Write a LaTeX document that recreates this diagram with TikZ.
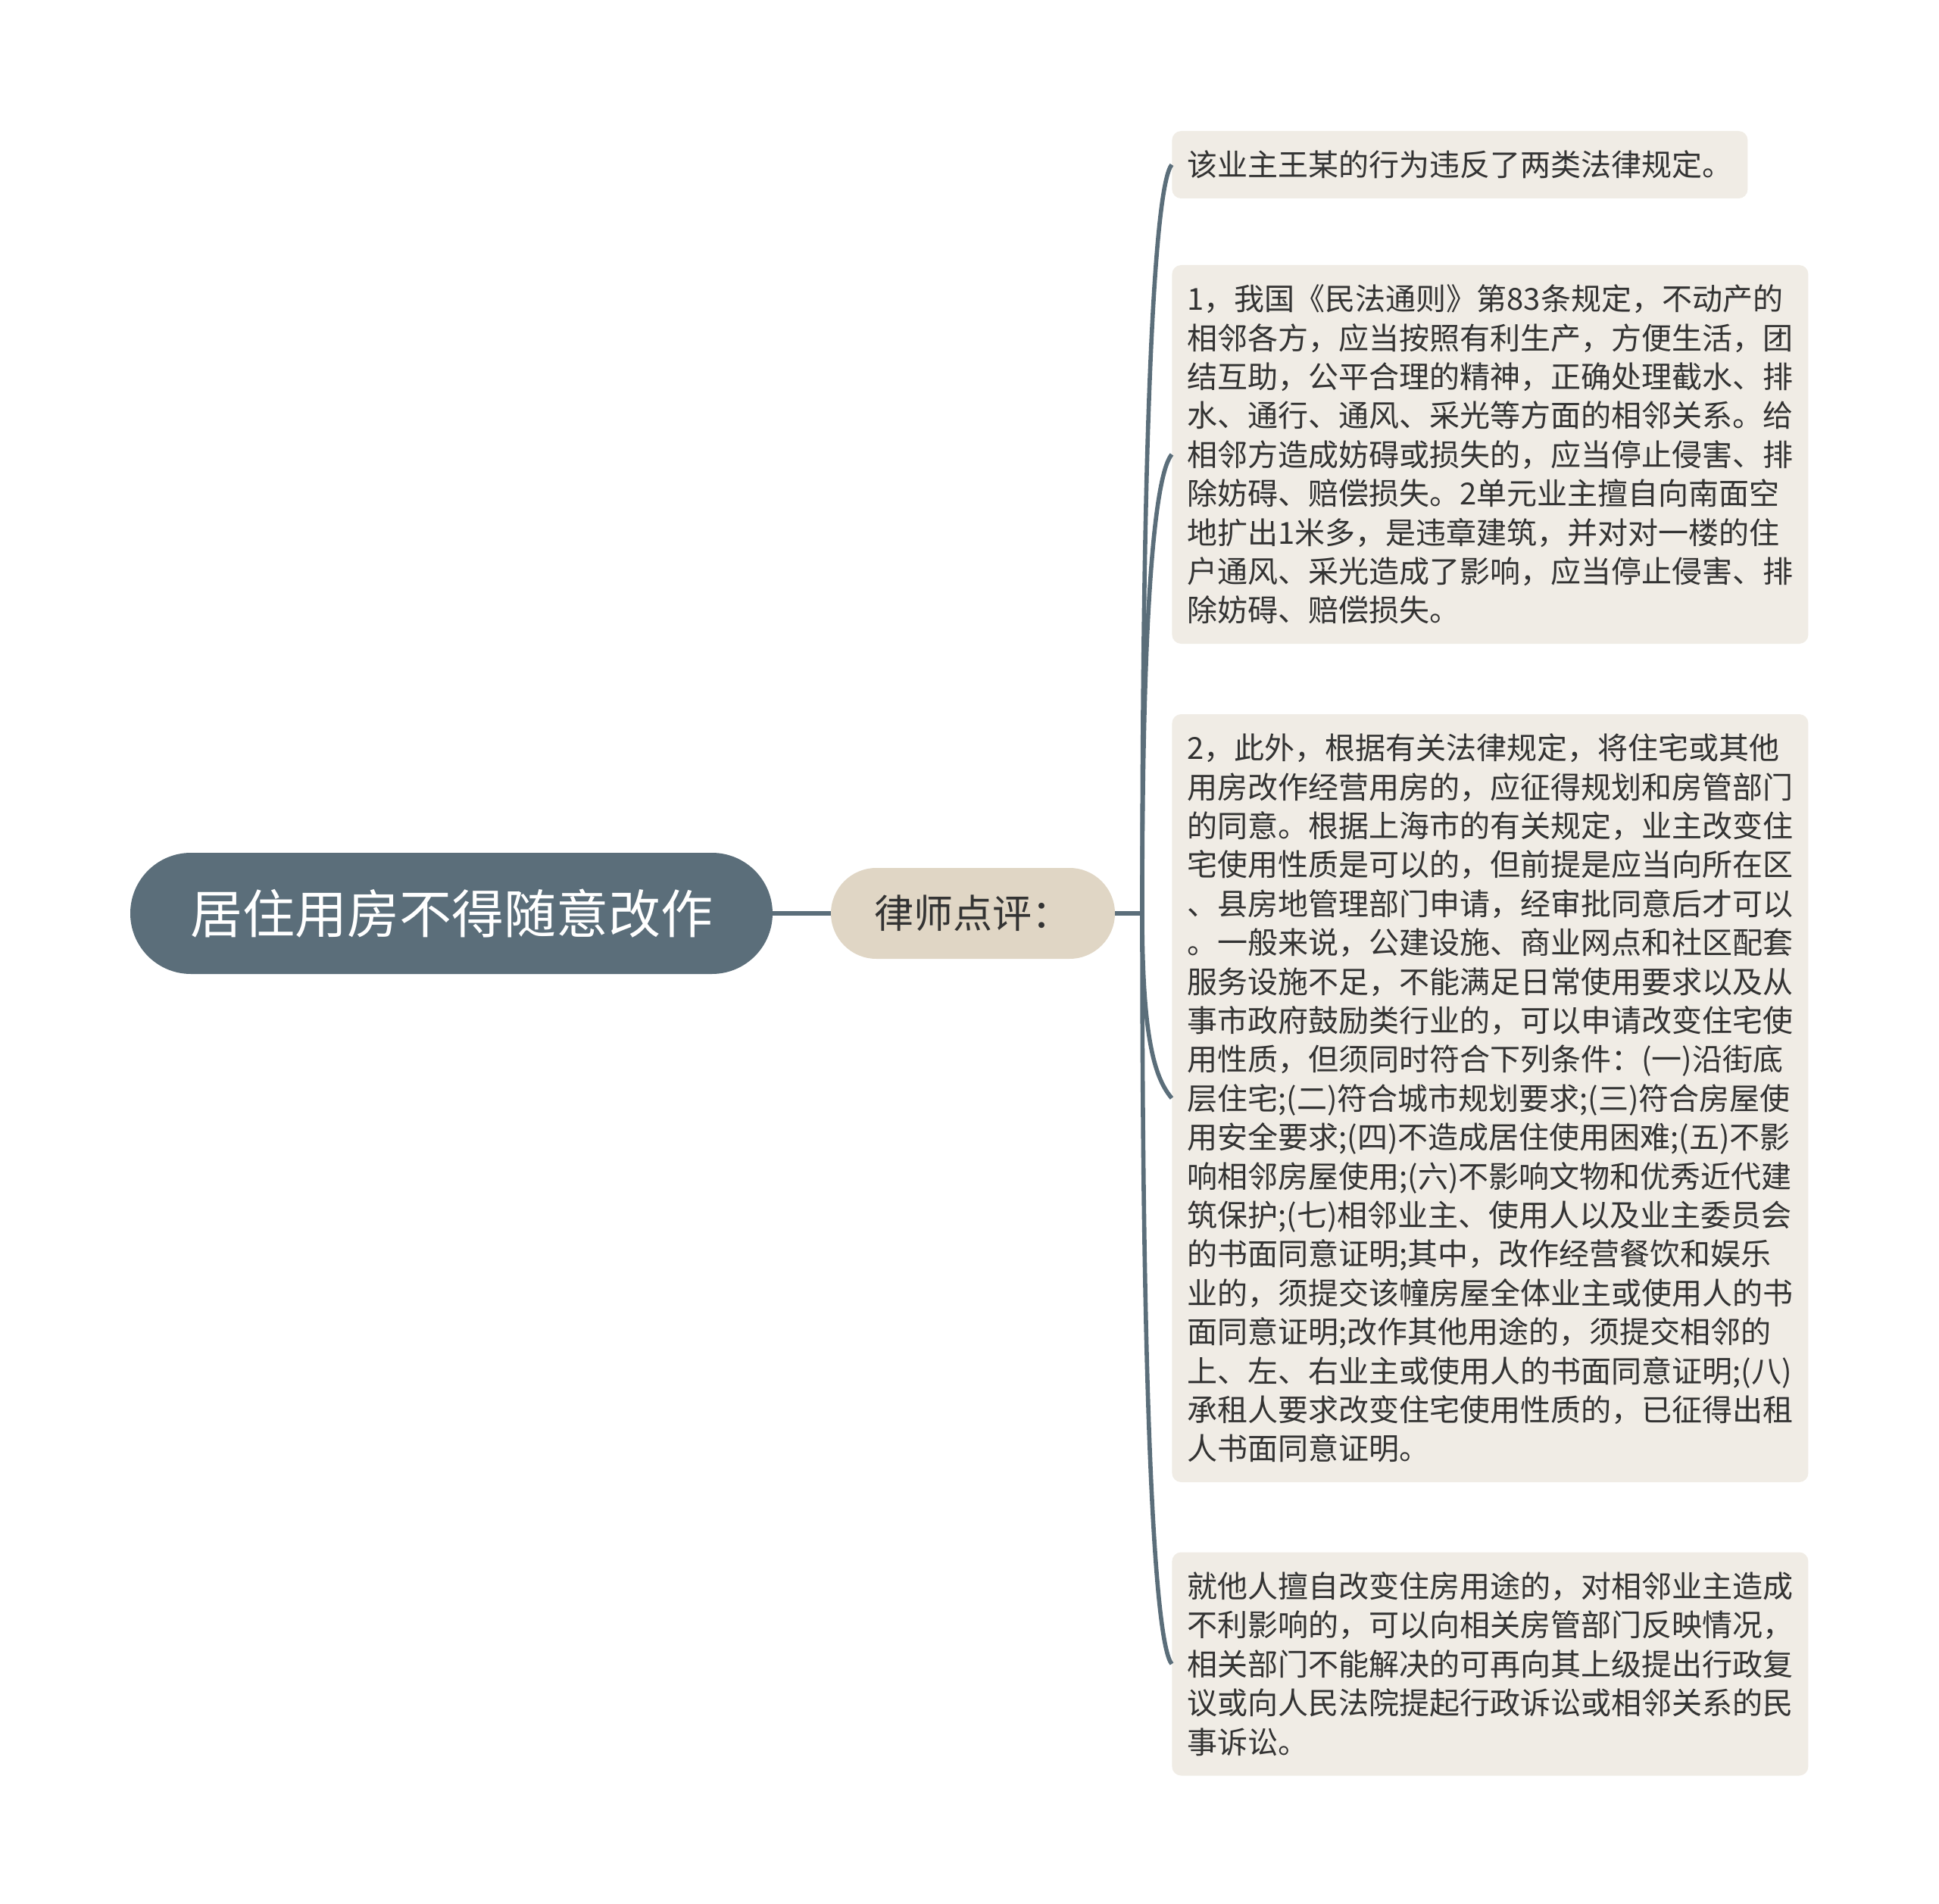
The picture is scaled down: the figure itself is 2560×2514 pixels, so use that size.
\documentclass[tikz,border=0pt]{standalone}
\usepackage{fontspec}
\setmainfont{Noto Sans CJK SC}
\usetikzlibrary{calc}
\definecolor{slate}{HTML}{5B6E7A}
\definecolor{tanbg}{HTML}{E0D6C5}
\definecolor{leafbg}{HTML}{F0ECE5}
\definecolor{inkc}{HTML}{333333}
\begin{document}
\begin{tikzpicture}[x=0.5pt,y=-0.5pt,
  rootbox/.style={fill=slate, rounded corners=40pt, minimum width=424pt, minimum height=80pt, inner sep=0pt, text=white, font=\fontsize{34.5pt}{40pt}\selectfont},
  subbox/.style={fill=tanbg, rounded corners=30pt, minimum width=187.5pt, minimum height=60pt, inner sep=0pt, text=inkc, font=\fontsize{26pt}{30pt}\selectfont},
  leafbox/.style={fill=leafbg, rounded corners=6pt, anchor=west, inner xsep=10pt, inner ysep=0pt, align=left, text=inkc, font=\fontsize{20pt}{25.7pt}\selectfont},
  link/.style={draw=slate, line width=2.8pt}
]
\useasboundingbox (0,0) rectangle (2560,2514);
\node[rootbox] (root) at (596,1206) {居住用房不得随意改作};
\node[subbox] (sub) at (1284.5,1206) {律师点评：};
\coordinate (j) at (1508,1206);
\node[leafbox, text width=360pt, minimum height=44.5pt] (l1) at (1547,217.5) {该业主王某的行为违反了两类法律规定。};
\node[leafbox, text width=400pt, minimum height=250pt] (l2) at (1547,600) {1，我国《民法通则》第83条规定，不动产的\\相邻各方，应当按照有利生产，方便生活，团\\结互助，公平合理的精神，正确处理截水、排\\水、通行、通风、采光等方面的相邻关系。给\\相邻方造成妨碍或损失的，应当停止侵害、排\\除妨碍、赔偿损失。2单元业主擅自向南面空\\地扩出1米多，是违章建筑，并对对一楼的住\\户通风、采光造成了影响，应当停止侵害、排\\除妨碍、赔偿损失。};
\node[leafbox, text width=400pt, minimum height=507pt] (l3) at (1547,1450) {2，此外，根据有关法律规定，将住宅或其他\\用房改作经营用房的，应征得规划和房管部门\\的同意。根据上海市的有关规定，业主改变住\\宅使用性质是可以的，但前提是应当向所在区\\、县房地管理部门申请，经审批同意后才可以\\。一般来说，公建设施、商业网点和社区配套\\服务设施不足，不能满足日常使用要求以及从\\事市政府鼓励类行业的，可以申请改变住宅使\\用性质，但须同时符合下列条件：(一)沿街底\\层住宅;(二)符合城市规划要求;(三)符合房屋使\\用安全要求;(四)不造成居住使用困难;(五)不影\\响相邻房屋使用;(六)不影响文物和优秀近代建\\筑保护;(七)相邻业主、使用人以及业主委员会\\的书面同意证明;其中，改作经营餐饮和娱乐\\业的，须提交该幢房屋全体业主或使用人的书\\面同意证明;改作其他用途的，须提交相邻的\\上、左、右业主或使用人的书面同意证明;(八)\\承租人要求改变住宅使用性质的，已征得出租\\人书面同意证明。};
\node[leafbox, text width=400pt, minimum height=147.5pt] (l4) at (1547,2197) {就他人擅自改变住房用途的，对相邻业主造成\\不利影响的，可以向相关房管部门反映情况，\\相关部门不能解决的可再向其上级提出行政复\\议或向人民法院提起行政诉讼或相邻关系的民\\事诉讼。};
\draw[link] (root.east) -- (sub.west);
\draw[link] (sub.east) -- (j);
\draw[link] (j) .. controls ($(j)!0.7!(j|-l1.west)$) and ($(l1.west)+(-21,25)$) .. (l1.west);
\draw[link] (j) .. controls ($(j)!0.7!(j|-l2.west)$) and ($(l2.west)+(-21,25)$) .. (l2.west);
\draw[link] (j) .. controls ($(j)!0.7!(j|-l3.west)$) and ($(l3.west)+(-21,-25)$) .. (l3.west);
\draw[link] (j) .. controls ($(j)!0.7!(j|-l4.west)$) and ($(l4.west)+(-21,-25)$) .. (l4.west);
\end{tikzpicture}
\end{document}
